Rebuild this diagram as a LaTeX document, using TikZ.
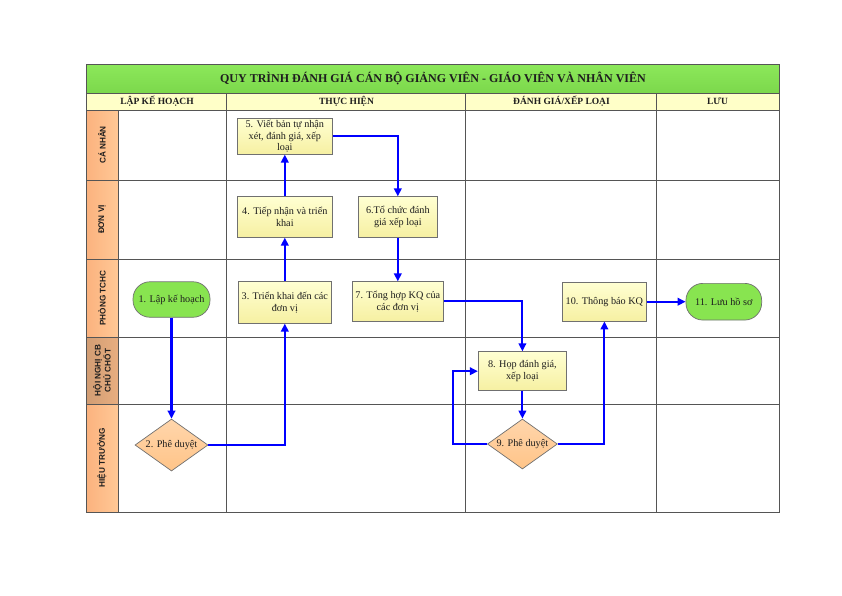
\documentclass[tikz,border=0pt]{standalone}
\usepackage{fontspec}
\setmainfont{Liberation Serif}
\newfontfamily\labfont{Liberation Sans}
\usetikzlibrary{shapes.geometric,arrows.meta}
\definecolor{titlegreen}{HTML}{8CE85A}
\definecolor{titlegreen2}{HTML}{7CD84C}
\definecolor{headyellow}{HTML}{FFFFC8}
\definecolor{laborange}{HTML}{FFC896}
\definecolor{laborange2}{HTML}{FBB27E}
\definecolor{labbrown}{HTML}{E8AE80}
\definecolor{boxtop}{HTML}{FFFFD2}
\definecolor{boxbot}{HTML}{F6F0A2}
\definecolor{termgreen}{HTML}{88E450}
\definecolor{decorange}{HTML}{FFC488}
\definecolor{gridgray}{HTML}{555555}
\definecolor{edgegray}{HTML}{707070}
\definecolor{txt}{HTML}{1E1E1E}
\begin{document}
\begin{tikzpicture}[x=1pt,y=-1pt,
  procbox/.style={draw=edgegray,line width=0.7pt,top color=boxtop,bottom color=boxbot,
    align=center,font=\fontsize{10.2}{11.8}\selectfont,text=txt,inner sep=0.5pt},
  termbox/.style={draw=edgegray,line width=0.7pt,fill=termgreen,rounded corners=17pt,
    align=center,font=\fontsize{10.2}{11.8}\selectfont,text=txt,inner sep=0.5pt},
  decbox/.style={diamond,draw=edgegray,line width=0.7pt,top color=decorange!70!white,bottom color=decorange,
    shape aspect=1.4,inner sep=0pt,font=\fontsize{10.2}{11.8}\selectfont,text=txt},
  arr/.style={draw=blue,line width=2.1pt,-{Triangle[length=8pt,width=7.5pt]}},
  gridline/.style={draw=gridgray,line width=0.6pt},
  hdr/.style={font=\bfseries\fontsize{9.5}{10}\selectfont,text=txt},
  lanelab/.style={rotate=90,font=\labfont\bfseries\fontsize{8.2}{8.6}\selectfont,align=center,text=txt}
]
\useasboundingbox (0,0) rectangle (842,595);
% title and header
\shade[top color=titlegreen,bottom color=titlegreen2] (86,64) rectangle (779,93);
\fill[headyellow] (86,93) rectangle (779,110);
% lane label cells
\shade[left color=laborange2,right color=laborange] (86,110) rectangle (118,180);
\shade[left color=laborange2,right color=laborange] (86,180) rectangle (118,259);
\shade[left color=laborange2,right color=laborange] (86,259) rectangle (118,337);
\shade[left color=labbrown!90!black,right color=labbrown] (86,337) rectangle (118,404);
\shade[left color=laborange2,right color=laborange] (86,404) rectangle (118,512);
% grid
\draw[gridline] (86,64) rectangle (779,512);
\draw[gridline] (86,93) -- (779,93);
\draw[gridline] (86,110) -- (779,110);
\foreach \yy in {180,259,337,404} \draw[gridline] (86,\yy) -- (779,\yy);
\draw[gridline] (118,110) -- (118,512);
\foreach \xx in {226,465,656} \draw[gridline] (\xx,93) -- (\xx,512);
% texts
\node[font=\bfseries\fontsize{12}{13}\selectfont,text=txt] (title) at (433,78.5) {QUY TRÌNH ĐÁNH GIÁ CÁN BỘ GIẢNG VIÊN - GIÁO VIÊN VÀ NHÂN VIÊN};
\node[hdr] (h1) at (157,101.5) {LẬP KẾ HOẠCH};
\node[hdr] (h2) at (346.5,101.5) {THỰC HIỆN};
\node[hdr] (h3) at (561.5,101.5) {ĐÁNH GIÁ/XẾP LOẠI};
\node[hdr] (h4) at (717.5,101.5) {LƯU};
\node[lanelab] (l1) at (102,145) {CÁ NHÂN};
\node[lanelab] (l2) at (102,219.5) {ĐƠN VỊ};
\node[lanelab] (l3) at (102,298) {PHÒNG TCHC};
\node[lanelab] (l4) at (102,370.5) {HỘI NGHỊ CB\\CHỦ CHỐT};
\node[lanelab] (l5) at (102,458) {HIỆU TRƯỞNG};
% nodes
\node[termbox,minimum width=77pt,minimum height=35.5pt] (n1) at (171.5,299.5) {1. Lập kế hoạch};
\node[decbox,minimum width=73pt,minimum height=52pt] (n2) at (171.5,445) {2. Phê duyệt};
\node[procbox,minimum width=93pt,minimum height=41.5pt] (n3) at (284.8,302.5) {3. Triển khai đến các\\đơn vị};
\node[procbox,minimum width=95pt,minimum height=40.5pt] (n4) at (284.8,217) {4. Tiếp nhận và triển\\khai};
\node[procbox,minimum width=95pt,minimum height=36pt,font=\fontsize{10.2}{11.2}\selectfont] (n5) at (284.8,136.2) {5. Viết bản tự nhận\\xét, đánh giá, xếp\\loại};
\node[procbox,minimum width=79pt,minimum height=40.5pt] (n6) at (397.8,217) {6.Tổ chức đánh\\giá xếp loại};
\node[procbox,minimum width=91.5pt,minimum height=39.3pt] (n7) at (397.8,301.4) {7. Tổng hợp KQ của\\các đơn vị};
\node[procbox,minimum width=88.4pt,minimum height=39pt] (n8) at (522.4,371.2) {8. Họp đánh giá,\\xếp loại};
\node[decbox,minimum width=70pt,minimum height=50pt] (n9) at (522.4,444) {9. Phê duyệt};
\node[procbox,minimum width=84.4pt,minimum height=38.7pt] (n10) at (604.4,301.7) {10. Thông báo KQ};
\node[termbox,minimum width=75.7pt,minimum height=36.7pt] (n11) at (723.8,301.7) {11. Lưu hồ sơ};
% connectors
\draw[arr] (n1.south) -- (n2.north);
\draw[arr] (n2.east) -| (n3.south);
\draw[arr] (n3.north) -- (n4.south);
\draw[arr] (n4.north) -- (n5.south);
\draw[arr] (n5.east) -| (n6.north);
\draw[arr] (n6.south) -- (n7.north);
\draw[arr] (n7.east) -| (n8.north);
\draw[arr] (n8.south) -- (n9.north);
\draw[arr] (n9.west) -- ++(-34,0) |- (n8.west);
\draw[arr] (n9.east) -| (n10.south);
\draw[arr] (n10.east) -- (n11.west);
\end{tikzpicture}
\end{document}
